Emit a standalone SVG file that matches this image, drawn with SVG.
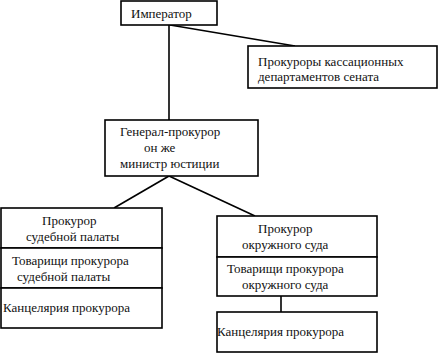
<svg xmlns="http://www.w3.org/2000/svg" width="441" height="353" viewBox="0 0 441 353">
<style>
rect{fill:#fff;stroke:#000;stroke-width:1.6}
line{stroke:#000;stroke-width:1.6}
text{font-family:"Liberation Serif","Times New Roman",serif;font-size:13px;fill:#111}
</style>
<rect x="0" y="0" width="441" height="353" style="stroke:none"/>
<g id="connectors">
<line x1="169" y1="25" x2="169" y2="120"/>
<line x1="170" y1="25" x2="295" y2="46"/>
<line x1="169" y1="176" x2="114" y2="208"/>
<line x1="169" y1="176" x2="255" y2="216"/>
<line x1="281" y1="296" x2="281" y2="312"/>
</g>
<g id="imperator">
<rect x="121" y="1" width="96" height="24"/>
<text x="131" y="18">Император</text>
</g>
<g id="kassac">
<rect x="248" y="46" width="189" height="42"/>
<text x="258" y="66">Прокуроры кассационных</text>
<text x="258" y="81">департаментов сената</text>
</g>
<g id="general">
<rect x="105" y="120" width="153" height="56"/>
<text x="120" y="136">Генерал-прокурор</text>
<text x="144" y="152">он же</text>
<text x="120" y="168">министр юстиции</text>
</g>
<g id="sud-palata">
<rect x="1" y="208" width="161" height="40"/>
<text x="42" y="225">Прокурор</text>
<text x="26" y="241">судебной палаты</text>
</g>
<g id="tov-palata">
<rect x="1" y="248" width="161" height="40"/>
<text x="12" y="265">Товарищи прокурора</text>
<text x="17" y="281">судебной палаты</text>
</g>
<g id="kanc-left">
<rect x="1" y="288" width="161" height="40"/>
<text x="3" y="312">Канцелярия прокурора</text>
</g>
<g id="okr-sud">
<rect x="217" y="216" width="160" height="41"/>
<text x="258" y="233">Прокурор</text>
<text x="242" y="249">окружного суда</text>
</g>
<g id="tov-okr">
<rect x="217" y="257" width="160" height="39"/>
<text x="227" y="273">Товарищи прокурора</text>
<text x="242" y="289">окружного суда</text>
</g>
<g id="kanc-right">
<rect x="217" y="312" width="160" height="40"/>
<text x="217" y="336">Канцелярия прокурора</text>
</g>
</svg>
